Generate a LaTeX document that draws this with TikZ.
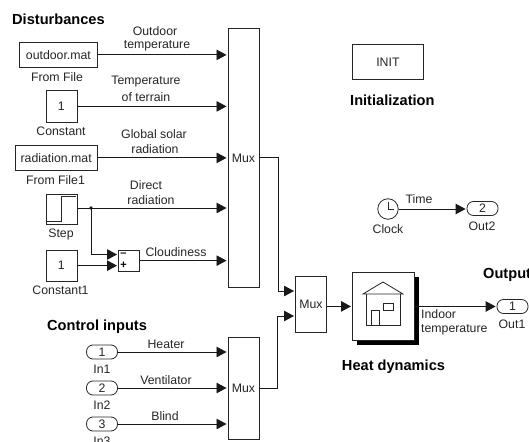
\documentclass[tikz,border=0pt]{standalone}
\usepackage{fontspec}
\setmainfont{Liberation Sans}
\usetikzlibrary{arrows.meta,calc}
\tikzset{
 x=1pt,y=-1pt,
 blk/.style={draw=black!85,line width=0.8pt,fill=white,inner sep=0pt,font=\fontsize{12.3}{14}\selectfont,text=black!85,anchor=north west},
 port/.style={blk,rounded corners=6.5pt,minimum width=31pt,minimum height=14pt,anchor=center},
 lab/.style={inner sep=0pt,font=\fontsize{12.3}{14}\selectfont,text=black!85},
 head/.style={inner sep=0pt,font=\fontsize{14.6}{17}\bfseries\selectfont,text=black},
 wire/.style={draw=black!90,line width=0.9pt,-{Triangle[length=10pt,width=10.5pt]},shorten >=1pt},
 pic/.style={draw=black!85,line width=0.8pt}
}
\begin{document}
\begin{tikzpicture}
\useasboundingbox (0,0) rectangle (529,441);
% blocks
\node[blk,minimum width=78pt,minimum height=25pt] (outd) at (19,42) {outdoor.mat};
\node[blk,minimum width=31pt,minimum height=31pt] (c0) at (45.5,90.5) {1};
\node[blk,minimum width=82.5pt,minimum height=25pt] (rad) at (14.5,145) {radiation.mat};
\node[blk,minimum width=31pt,minimum height=30pt] (step) at (45.5,194) {};
\node[blk,minimum width=31pt,minimum height=30.5pt] (c1) at (45.5,250) {1};
\node[blk,minimum width=21pt,minimum height=20.5pt] (sum) at (118,250) {};
\node[blk,minimum width=31pt,minimum height=259pt] (mA) at (227.5,28) {Mux};
\node[blk,minimum width=31pt,minimum height=102pt] (mB) at (227.5,337) {Mux};
\node[blk,minimum width=31pt,minimum height=56pt] (mC) at (295,276) {Mux};
\node[blk,minimum width=71pt,minimum height=35pt] (init) at (352,44) {INIT};
\node[port] (in1) at (102,352) {1};
\node[port] (in2) at (102,388) {2};
\node[port] (in3) at (102,424) {3};
\node[port] (out1) at (512.5,306.5) {1};
\node[port] (out2) at (482.5,208.5) {2};
\fill[black] (357,277) rectangle (419,345);
\node[blk,minimum width=62pt,minimum height=68pt] (heat) at (352,272) {};
\node[draw=black!85,line width=0.8pt,circle,minimum size=20.5pt,inner sep=0pt,fill=white] (clk) at (388,209) {};
\coordinate (jn) at (91,208);
\fill[black!90] (jn) circle (1.8pt);
% icons
\draw[pic] (46,221) -- (61,221) -- (61,196) -- (76,196);
\draw[pic] (383,282) -- (403,294) -- (363,294) -- cycle;
\draw[pic] (366.5,294) -- (366.5,325) -- (400,325) -- (400,294);
\draw[pic] (371,325) -- (371,310) -- (379,310) -- (379,325);
\draw[pic] (383,303) rectangle (393.5,310);
\draw[pic] (388,202) -- (388,209) -- (394,209);
\node[inner sep=0pt,font=\fontsize{11}{12}\bfseries\selectfont,text=black] (sm) at (123.5,255) {–};
\node[inner sep=0pt,font=\fontsize{11}{12}\bfseries\selectfont,text=black] (sp) at (123.5,265.5) {+};
% wires
\draw[wire] (outd.east) -- (mA.west |- outd.east);
\draw[wire] (c0.east) -- (mA.west |- c0.east);
\draw[wire] (rad.east) -- (mA.west |- rad.east);
\draw[wire] (step.east |- jn) -- (mA.west |- jn);
\draw[wire] (jn) |- (sum.west |- 0,254.5);
\draw[wire] (c1.east) -- (sum.west |- c1.east);
\draw[wire] (sum.east) -- (mA.west |- sum.east);
\draw[wire] (in1) -- (mB.west |- in1);
\draw[wire] (in2) -- (mB.west |- in2);
\draw[wire] (in3) -- (mB.west |- in3);
\draw[wire] (mA.east |- 0,157) -| (278,291) -- (mC.west |- 0,291);
\draw[wire] (mB.east |- 0,388) -| (277.5,316) -- (mC.west |- 0,316);
\draw[wire] (mC.east |- heat.west) -- (heat.west);
\draw[wire] (heat.east |- out1) -- (out1.west);
\draw[wire] (clk.east) -- (out2.west |- clk.east);
% labels
\node[head,anchor=west] (hd) at (12,19) {Disturbances};
\node[head,anchor=west] (hc) at (47,327) {Control inputs};
\node[head,anchor=west] (hi) at (350,100) {Initialization};
\node[head,anchor=west] (ho) at (483,275) {Output};
\node[head] (hh) at (393.5,367) {Heat dynamics};
\node[lab] (t1) at (155,31) {Outdoor};
\node[lab] (t2) at (157,46) {temperature};
\node[lab] (t3) at (146,82) {Temperature};
\node[lab] (t4) at (146,97) {of terrain};
\node[lab] (t5) at (154,134) {Global solar};
\node[lab] (t6) at (155,149) {radiation};
\node[lab] (t7) at (146,185) {Direct};
\node[lab] (t8) at (151,200) {radiation};
\node[lab] (t9) at (176,252) {Cloudiness};
\node[lab] (l1) at (57,77) {From File};
\node[lab] (l2) at (61,131) {Constant};
\node[lab] (l3) at (55.5,180) {From File1};
\node[lab] (l4) at (61,234) {Step};
\node[lab] (l5) at (60.5,290) {Constant1};
\node[lab] (l6) at (166,344) {Heater};
\node[lab] (l7) at (166,380) {Ventilator};
\node[lab] (l8) at (165,416) {Blind};
\node[lab] (l9) at (102,369) {In1};
\node[lab] (l10) at (102,405) {In2};
\node[lab] (l11) at (102,441) {In3};
\node[lab] (l12) at (512,324) {Out1};
\node[lab] (l13) at (482,226) {Out2};
\node[lab] (l14) at (388,229) {Clock};
\node[lab] (l15) at (419,199) {Time};
\node[lab,anchor=west] (l16) at (421,314) {Indoor};
\node[lab,anchor=west] (l17) at (421,330) {temperature};
\end{tikzpicture}
\end{document}
